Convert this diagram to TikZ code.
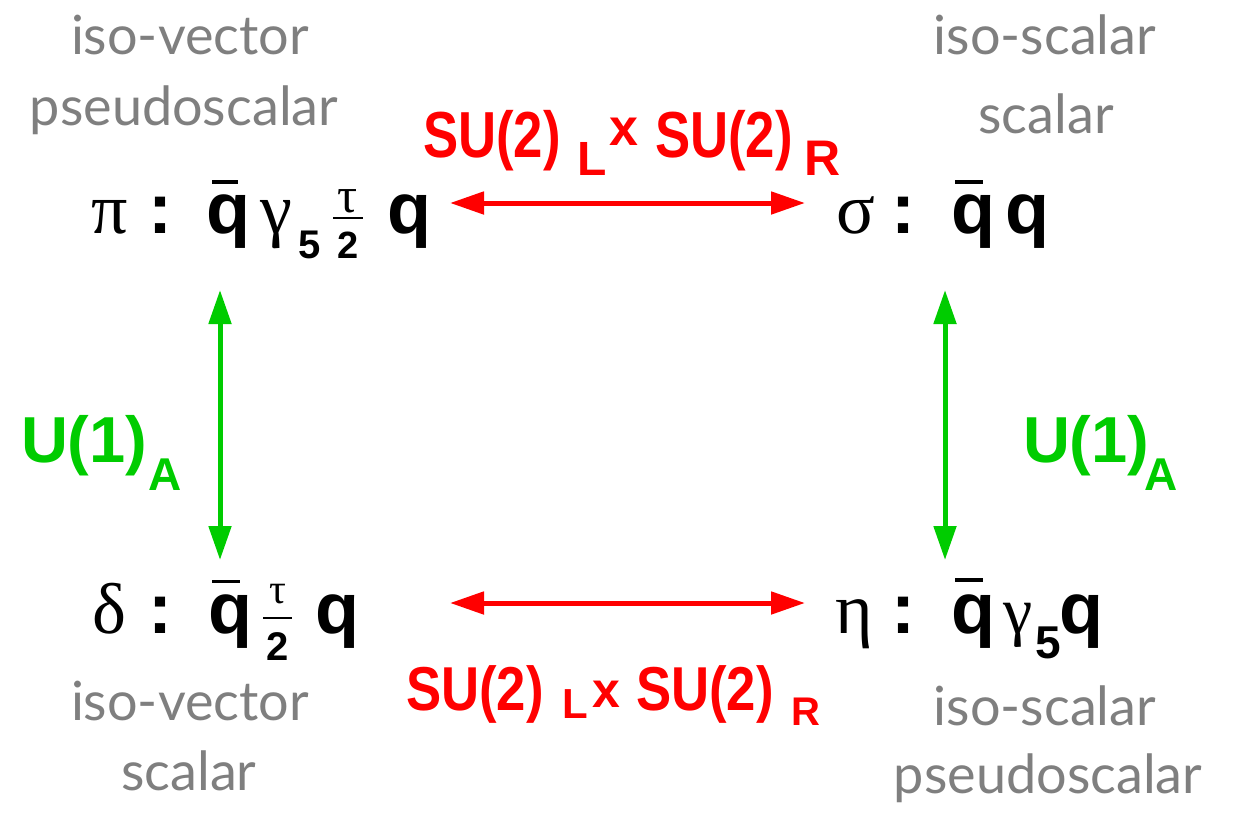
\documentclass[tikz,border=0pt]{standalone}
\usepackage{fontspec}
\setmainfont{Liberation Sans}
\newfontfamily\gr{Liberation Serif}
\newfontfamily\gill{Lato}
\usetikzlibrary{arrows.meta}
\definecolor{grtxt}{HTML}{7F7F7F}
\definecolor{grn}{HTML}{00CC00}
\newcommand\fs[1]{\fontsize{#1pt}{#1pt}\selectfont}
\newcommand\pc[3]{\rlap{\hspace*{#1pt}\raisebox{#2pt}{#3}}}
\begin{document}
\begin{tikzpicture}[x=1pt,y=-1pt,
  lbl/.style={inner sep=0pt, outer sep=0pt, anchor=base west},
  graytxt/.style={inner sep=0pt, anchor=base, text=grtxt, font=\gill\fs{54}},
  redarr/.style={draw=red, line width=5pt, {Triangle[length=34pt,width=22pt]}-{Triangle[length=34pt,width=22pt]}},
  greenarr/.style={draw=grn, line width=5pt, {Triangle[length=34pt,width=22pt]}-{Triangle[length=34pt,width=22pt]}},
  redlbl/.style={lbl, text=red, font=\bfseries\fs{62}},
  greenlbl/.style={lbl, text=grn, font=\bfseries\fs{65}},
  formula/.style={lbl, font=\bfseries\fs{72}}]
\fill[white] (0,0) rectangle (1249,816);
\useasboundingbox (0,0) rectangle (1249,816);

% gray descriptions
\node[graytxt] (tl1) at (190,55) {iso-vector};
\node[graytxt] (tl2) at (184,125) {pseudoscalar};
\node[graytxt] (tr1) at (1045,55) {iso-scalar};
\node[graytxt] (tr2) at (1046,133) {scalar};
\node[graytxt] (bl1) at (190,720) {iso-vector};
\node[graytxt] (bl2) at (189,790) {scalar};
\node[graytxt] (br1) at (1045,725) {iso-scalar};
\node[graytxt] (br2) at (1048,793) {pseudoscalar};

% formulas
\node[formula] (pi) at (90,233) {%
 \pc{1}{0}{\gr\mdseries π}%
 \pc{58}{0}{:}%
 \pc{117}{0}{q}\pc{122}{49.5}{\rule{26pt}{3.5pt}}%
 \pc{170}{0}{\gr\mdseries γ}%
 \pc{208}{-25}{\fs{40}5}%
 \pc{243}{21}{\makebox[30pt]{\gr\mdseries\fs{50}τ}}%
 \pc{243}{13.7}{\rule{30pt}{2.5pt}}%
 \pc{243}{-25}{\makebox[30pt]{\fs{38}2}}%
 \pc{297}{0}{q}\hspace*{345pt}};

\node[formula] (sigma) at (835,233) {%
 \pc{1}{0}{\gr\mdseries σ}%
 \pc{56}{0}{:}%
 \pc{117}{0}{q}\pc{120}{49}{\rule{28pt}{4pt}}%
 \pc{170}{0}{q}\hspace*{210pt}};

\node[formula] (delta) at (90,633) {%
 \pc{2}{0}{\gr\mdseries δ}%
 \pc{58}{0}{:}%
 \pc{119}{0}{q}\pc{122}{50}{\rule{28pt}{3.5pt}}%
 \pc{173}{30}{\makebox[29pt]{\gr\mdseries\fs{42}τ}}%
 \pc{173}{13.7}{\rule{29pt}{2.5pt}}%
 \pc{173}{-27}{\makebox[29pt]{\fs{40}2}}%
 \pc{225}{0}{q}\hspace*{270pt}};

\node[formula] (eta) at (835,633) {%
 \pc{0}{0}{\gr\mdseries η}%
 \pc{56}{0}{:}%
 \pc{117}{0}{q}\pc{120}{51}{\rule{28pt}{4pt}}%
 \pc{168}{0}{\gr\mdseries\fs{66}γ}%
 \pc{200}{-25}{\fs{46}5}%
 \pc{224}{0}{q}\hspace*{268pt}};

% red labels
\node[redlbl] (su2top) at (423,157) {%
 \pc{0}{0}{\scalebox{0.85}[1.05]{SU(2)}}%
 \pc{154}{-18}{\fs{48}L}%
 \pc{186}{12}{\fs{52}x}%
 \pc{232}{0}{\scalebox{0.85}[1.05]{SU(2)}}%
 \pc{381}{-18}{\fs{50}R}\hspace*{420pt}};

\node[redlbl] (su2bot) at (406,710) {%
 \pc{0}{0}{\scalebox{0.85}[1]{SU(2)}}%
 \pc{156}{-8}{\fs{42}L}%
 \pc{186}{3}{\fs{50}x}%
 \pc{230}{0}{\scalebox{0.85}[1]{SU(2)}}%
 \pc{385}{-15}{\fs{40}R}\hspace*{420pt}};

% green labels
\node[greenlbl] (u1left) at (21,462) {%
 \pc{0}{0}{U(1)}\pc{127}{-28}{\fs{46}A}\hspace*{165pt}};
\node[greenlbl] (u1right) at (1023,462) {%
 \pc{0}{0}{U(1)}\pc{121}{-28}{\fs{46}A}\hspace*{160pt}};

% connectors
\coordinate (r1a) at (450,203);
\coordinate (r1b) at (805,203);
\coordinate (r2a) at (450,603);
\coordinate (r2b) at (805,603);
\coordinate (g1a) at (220,290);
\coordinate (g1b) at (220,560);
\coordinate (g2a) at (945,290);
\coordinate (g2b) at (945,560);
\draw[redarr] (r1a) -- (r1b);
\draw[redarr] (r2a) -- (r2b);
\draw[greenarr] (g1a) -- (g1b);
\draw[greenarr] (g2a) -- (g2b);
\end{tikzpicture}
\end{document}
